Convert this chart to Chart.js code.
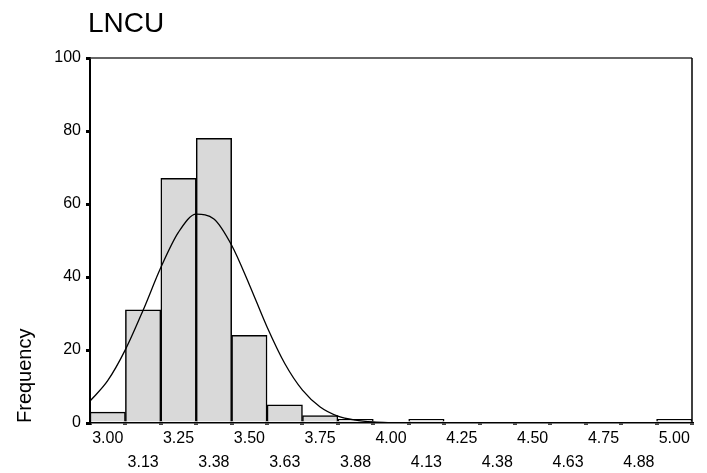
<!DOCTYPE html>
<html>
<head>
<meta charset="utf-8">
<script src="https://cdn.jsdelivr.net/npm/chart.js@4"></script>
<style>
  html, body { margin: 0; padding: 0; background: #fff; }
  #wrap { width: 707px; height: 473px; position: relative; }
</style>
</head>
<body>
<div id="wrap"><canvas id="c"></canvas></div>
<script>
const chartTitle = 'LNCU';
const yAxisTitle = 'Frequency';
const binCenters = [3.000, 3.125, 3.250, 3.375, 3.500, 3.625, 3.750, 3.875, 4.000, 4.125, 4.250, 4.375, 4.500, 4.625, 4.750, 4.875, 5.000];
const frequencies = [3, 31, 67, 78, 24, 5, 2, 1, 0, 1, 0, 0, 0, 0, 0, 0, 1];
const xTickLabels = ['3.00','3.13','3.25','3.38','3.50','3.63','3.75','3.88','4.00','4.13','4.25','4.38','4.50','4.63','4.75','4.88','5.00'];
const curveX = [2.9375, 3.0, 3.0625, 3.125, 3.1875, 3.25, 3.3125, 3.375, 3.4375, 3.5, 3.5625, 3.625, 3.6875, 3.75, 3.8125, 3.875, 3.9375, 4.0, 4.0625, 5.0625];
const curveY = [6.0, 11.6, 20.1, 30.9, 42.6, 52.3, 57.2, 55.9, 48.7, 37.9, 26.3, 16.3, 9.0, 4.4, 1.9, 0.8, 0.3, 0.1, 0, 0];
const xMin = 2.9375, xMax = 5.0625;
const yMin = 0, yMax = 100, yStep = 20;

const FONT = 'Arial, "Liberation Sans", sans-serif';

const framePlugin = {
  id: 'frame',
  afterDatasetsDraw(chart) {
    const a = chart.chartArea, ctx = chart.ctx;
    ctx.save();
    ctx.lineWidth = 1.5;
    ctx.strokeStyle = '#333';
    ctx.beginPath();
    ctx.moveTo(a.left, a.top);
    ctx.lineTo(a.right, a.top);
    ctx.stroke();
    ctx.strokeStyle = '#000';
    ctx.beginPath();
    ctx.moveTo(a.right, a.top);
    ctx.lineTo(a.right, a.bottom);
    ctx.stroke();
    ctx.restore();
  },
  afterDraw(chart) {
    const ctx = chart.ctx;
    ctx.save();
    ctx.font = '28px ' + FONT;
    ctx.fillStyle = '#000';
    ctx.textBaseline = 'middle';
    ctx.textAlign = 'left';
    ctx.fillText(chartTitle, chart.chartArea.left - 2, 24);
    ctx.restore();
  }
};

new Chart(document.getElementById('c'), {
  type: 'bar',
  data: {
    datasets: [
      {
        type: 'line',
        data: curveX.map((x, i) => ({ x: x, y: curveY[i] })),
        borderColor: '#000',
        borderWidth: 1.3,
        pointRadius: 0,
        fill: false,
        cubicInterpolationMode: 'monotone',
        order: 0
      },
      {
        type: 'bar',
        data: binCenters.map((x, i) => ({ x: x, y: frequencies[i] })),
        backgroundColor: '#d9d9d9',
        borderColor: '#000',
        borderWidth: 1.5,
        barPercentage: 1,
        categoryPercentage: 1,
        order: 1
      }
    ]
  },
  options: {
    responsive: true,
    maintainAspectRatio: false,
    animation: false,
    layout: { padding: { left: 0, right: 15, top: 58, bottom: 0 } },
    plugins: {
      legend: { display: false },
      tooltip: { enabled: false },
      title: { display: false }
    },
    scales: {
      x: {
        type: 'linear',
        min: xMin,
        max: xMax,
        offset: false,
        afterBuildTicks(scale) { scale.ticks = binCenters.map(v => ({ value: v })); },
        afterFit(scale) { scale.height = 50; },
        border: { color: '#000', width: 1.5 },
        grid: { drawOnChartArea: false, tickLength: 2, lineWidth: 4, color: '#444' },
        ticks: {
          autoSkip: false,
          maxRotation: 0,
          padding: 2,
          color: '#000',
          font: { family: FONT, size: 16, lineHeight: 1.5 },
          callback(value, index) {
            const lbl = xTickLabels[index];
            return index % 2 === 0 ? [lbl] : ['', lbl];
          }
        }
      },
      y: {
        min: yMin,
        max: yMax,
        afterFit(scale) { scale.width = 90; },
        border: { color: '#000', width: 2 },
        grid: { drawOnChartArea: false, tickLength: 4, lineWidth: 3, color: '#000' },
        ticks: {
          stepSize: yStep,
          padding: 5,
          color: '#000',
          font: { family: FONT, size: 16 }
        },
        title: {
          display: true,
          text: yAxisTitle,
          align: 'start',
          color: '#000',
          font: { family: FONT, size: 20 },
          padding: { top: 13, bottom: 0 }
        }
      }
    }
  },
  plugins: [framePlugin]
});
</script>
</body>
</html>
